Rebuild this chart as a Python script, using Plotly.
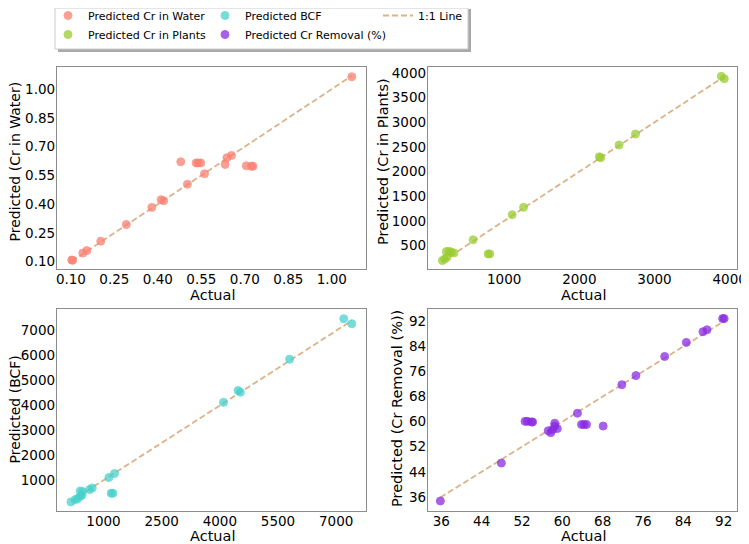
import plotly.graph_objects as go

# the page body adds an 8px margin, so the figure is 8px smaller than the window
OFF = 8
W, H = 749 - OFF, 544 - OFF

# Cr in water (actual vs predicted)
actual_water = [0.103, 0.106, 0.141, 0.155, 0.203, 0.291, 0.379, 0.411, 0.420, 0.479, 0.502,
                0.532, 0.539, 0.548, 0.561, 0.632, 0.638, 0.654, 0.705, 0.723, 0.728, 1.069]
pred_water = [0.109, 0.107, 0.145, 0.158, 0.207, 0.294, 0.383, 0.423, 0.418, 0.621, 0.504,
              0.615, 0.615, 0.615, 0.559, 0.607, 0.642, 0.654, 0.600, 0.598, 0.598, 1.064]

# Cr in plants
actual_plants = [178, 209, 240, 231, 267, 298, 333, 587, 787, 809, 1107, 1258,
                 2267, 2284, 2529, 2747, 3889, 3929]
pred_plants = [194, 228, 262, 378, 384, 364, 350, 616, 330, 330, 1125, 1275,
               2301, 2281, 2539, 2763, 3932, 3884]

# BCF
actual_bcf = [160, 272, 332, 400, 443, 400, 460, 640, 709, 1137, 1283, 1197, 1240,
              4094, 4470, 4530, 5799, 7196, 7402]
pred_bcf = [128, 222, 262, 356, 400, 571, 544, 624, 691, 1107, 1268, 477, 477,
            4127, 4597, 4529, 5858, 7482, 7281]

# Cr removal (%)
actual_removal = [35.8, 47.9, 52.6, 53.1, 53.9, 54.1, 57.2, 57.7, 58.1, 58.5, 58.5, 59.0,
                  63.0, 63.8, 64.3, 64.8, 68.1, 71.8, 74.6, 80.3, 84.6, 87.9, 88.7, 91.8, 92.1]
pred_removal = [34.7, 46.8, 60.1, 60.1, 59.9, 59.9, 57.1, 56.5, 57.5, 59.5, 58.6, 57.8,
                62.7, 59.1, 59.1, 59.1, 58.6, 71.8, 74.7, 80.8, 85.3, 88.7, 89.3, 92.9, 92.9]

water_ticks = [0.10, 0.25, 0.40, 0.55, 0.70, 0.85, 1.00]
water_ticktext = ['0.10', '0.25', '0.40', '0.55', '0.70', '0.85', '1.00']
plants_xticks = [1000, 2000, 3000, 4000]
plants_yticks = [500, 1000, 1500, 2000, 2500, 3000, 3500, 4000]
bcf_xticks = [1000, 2500, 4000, 5500, 7000]
bcf_yticks = [1000, 2000, 3000, 4000, 5000, 6000, 7000]
removal_ticks = [36, 44, 52, 60, 68, 76, 84, 92]

FONT = 'DejaVu Sans'
LINE_COLOR = '#dcb388'

panels = [
    ('Predicted Cr in Water', 'salmon', actual_water, pred_water, 'x', 'y', 'legend'),
    ('Predicted Cr in Plants', 'yellowgreen', actual_plants, pred_plants, 'x2', 'y2', 'legend'),
    ('Predicted BCF', 'mediumturquoise', actual_bcf, pred_bcf, 'x3', 'y3', 'legend2'),
    ('Predicted Cr Removal (%)', 'blueviolet', actual_removal, pred_removal, 'x4', 'y4', 'legend2'),
]

fig = go.Figure()
for i, (name, color, act, pred, xa, ya, leg) in enumerate(panels):
    lo, hi = min(act), max(act)
    fig.add_trace(go.Scatter(
        x=[lo, hi], y=[lo, hi], mode='lines', xaxis=xa, yaxis=ya,
        line=dict(color=LINE_COLOR, width=1.8, dash='6px,3px'),
        name='1:1 Line', legend='legend3', showlegend=(i == 0),
    ))
    fig.add_trace(go.Scatter(
        x=act, y=pred, mode='markers', xaxis=xa, yaxis=ya, name=name, legend=leg,
        marker=dict(size=8, color=color, opacity=0.75, line=dict(width=1, color=color)),
    ))


def px_x(p):
    # window pixel -> paper fraction
    return (p - OFF) / W


def px_y(p):
    return 1 - (p - OFF) / H


def axis(domain, rng, tickvals, ticktext=None, anchor=None):
    d = dict(domain=domain, range=rng, tickvals=tickvals, showgrid=False, zeroline=False,
             showline=True, mirror=True, linecolor='#8c8c8c', linewidth=1.3, ticks='',
             automargin=False, ticklabelstandoff=-2,
             tickfont=dict(family=FONT, size=13.5, color='black'), anchor=anchor)
    if ticktext is not None:
        d['ticktext'] = ticktext
    return d


xl = [px_x(57), px_x(366)]
xr = [px_x(428), px_x(737)]
yt = [px_y(269), px_y(67)]
yb = [px_y(511), px_y(309)]

legend_font = dict(family=FONT, size=11, color='black')
legend_common = dict(xanchor='left', yanchor='top', y=px_y(1), bgcolor='rgba(0,0,0,0)',
                     borderwidth=0, font=legend_font, orientation='v')

fig.update_layout(
    width=W, height=H, margin=dict(l=0, r=0, t=0, b=0, autoexpand=False),
    paper_bgcolor='white', plot_bgcolor='white',
    xaxis=axis(xl, [0.052, 1.118], water_ticks, water_ticktext, 'y'),
    yaxis=axis(yt, [0.062, 1.115], water_ticks, water_ticktext, 'x'),
    xaxis2=axis(xr, [-13, 4098], plants_xticks, None, 'y2'),
    yaxis2=axis(yt, [24, 4122], plants_yticks, None, 'x2'),
    xaxis3=axis(xl, [-200, 7770], bcf_xticks, None, 'y3'),
    yaxis3=axis(yb, [-235, 7871], bcf_yticks, None, 'x3'),
    xaxis4=axis(xr, [33.35, 94.65], removal_ticks, None, 'y4'),
    yaxis4=axis(yb, [31.5, 95.95], removal_ticks, None, 'x4'),
    legend=dict(x=px_x(48), **legend_common),
    legend2=dict(x=px_x(205), **legend_common),
    legend3=dict(x=px_x(378), **legend_common),
    shapes=[
        dict(type='rect', xref='paper', yref='paper', x0=px_x(58), x1=px_x(471),
             y0=px_y(52), y1=px_y(9), fillcolor='#a8a8a8', line=dict(width=0), layer='above'),
        dict(type='rect', xref='paper', yref='paper', x0=px_x(55), x1=px_x(468),
             y0=px_y(49), y1=px_y(8), fillcolor='white', line=dict(color='#cccccc', width=1),
             layer='above'),
    ],
)

# axis titles placed as annotations at the reference positions
titles = [
    ('Predicted (Cr in Water)', 14.5, 162, -90, 14),
    ('Predicted (Cr in Plants)', 383, 162, -90, 14.5),
    ('Predicted (BCF)', 14.5, 410, -90, 14),
    ('Predicted (Cr Removal (%))', 397, 408, -90, 14.5),
    ('Actual', 212, 295, 0, 14.5),
    ('Actual', 583, 295, 0, 14.5),
    ('Actual', 212, 536, 0, 14.5),
    ('Actual', 583, 536, 0, 14.5),
]
for text, tx, ty, ang, size in titles:
    fig.add_annotation(text=text, x=px_x(tx), y=px_y(ty), xref='paper', yref='paper',
                       showarrow=False, textangle=ang, xanchor='center', yanchor='middle',
                       font=dict(family=FONT, size=size, color='black'))

fig.write_html('out.html')
